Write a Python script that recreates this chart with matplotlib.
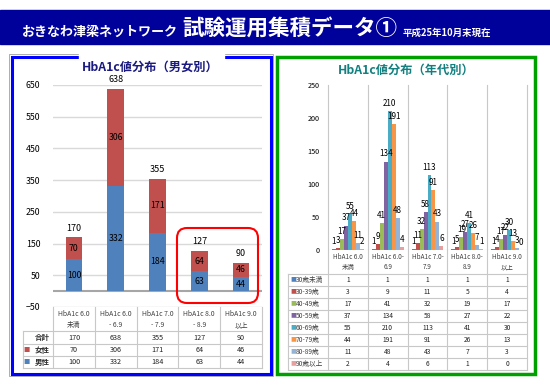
import matplotlib
matplotlib.use('Agg')
import matplotlib.pyplot as plt
from matplotlib.patches import Rectangle, FancyBboxPatch

plt.rcParams['font.family'] = ['Noto Sans CJK JP', 'DejaVu Sans']

# --- data: left chart (男女別) ---
cats_left = ['HbA1c 6.0\n未満', 'HbA1c 6.0\n- 6.9', 'HbA1c 7.0\n- 7.9', 'HbA1c 8.0\n- 8.9', 'HbA1c 9.0\n以上']
female = [70, 306, 171, 64, 46]
male = [100, 332, 184, 63, 44]
total = [170, 638, 355, 127, 90]

# --- data: right chart (年代別) ---
cats_right = ['HbA1c 6.0\n未満', 'HbA1c 6.0-\n6.9', 'HbA1c 7.0-\n7.9', 'HbA1c 8.0-\n8.9', 'HbA1c 9.0\n以上']
age_labels = ['30歳未満', '30-39歳', '40-49歳', '50-59歳', '60-69歳', '70-79歳', '80-89歳', '90歳以上']
age_u30 = [1, 1, 1, 1, 1]
age_30s = [3, 9, 11, 5, 4]
age_40s = [17, 41, 32, 19, 17]
age_50s = [37, 134, 58, 27, 22]
age_60s = [55, 210, 113, 41, 30]
age_70s = [44, 191, 91, 26, 13]
age_80s = [11, 48, 43, 7, 3]
age_90p = [2, 4, 6, 1, 0]
age_values = [age_u30, age_30s, age_40s, age_50s, age_60s, age_70s, age_80s, age_90p]
age_colors = ['#4F81BD', '#C0504D', '#9BBB59', '#8064A2', '#4BACC6', '#F79646', '#95B3D7', '#E6A0A0']

W, H = 550, 389
fig = plt.figure(figsize=(W / 100, H / 100), dpi=100)


def box(x0, y0, x1, y1):
    # pixel box (top-left origin) -> figure fraction
    return [x0 / W, 1 - y1 / H, (x1 - x0) / W, (y1 - y0) / H]


bg = fig.add_axes([0, 0, 1, 1], zorder=0)
bg.set_xlim(0, W)
bg.set_ylim(H, 0)
bg.axis('off')

# header band
bg.add_patch(Rectangle((0, 10), W, 34, color='#00009A'))
bg.text(22, 35.5, 'おきなわ津梁ネットワーク', color='white', fontsize=9.4, fontweight='bold', va='baseline')
bg.text(182, 36, '試験運用集積データ①', color='white', fontsize=15.5, fontweight='bold', va='baseline')
bg.text(403, 35.5, '平成25年10月末現在', color='white', fontsize=6.8, fontweight='bold', va='baseline')

# panel frames
bg.add_patch(Rectangle((9, 54), 264, 322, fill=False, ec='#A0A0A0', lw=0.6))
bg.add_patch(Rectangle((11.5, 56.5), 259, 317.5, fill=False, ec='#0000FF', lw=2.2))
bg.add_patch(Rectangle((79, 52), 145, 8, color='white', zorder=3))
bg.add_patch(Rectangle((277, 56.5), 258, 317, fill=False, ec='#00A000', lw=2.5))

bg.text(150, 67, 'HbA1c値分布（男女別）', color='#1A1A80', fontsize=8.8, fontweight='bold', ha='center', va='center')
bg.text(406, 70, 'HbA1c値分布（年代別）', color='#138080', fontsize=8.8, fontweight='bold', ha='center', va='center')

# ---------- left chart ----------
axL = fig.add_axes(box(53, 85, 262, 307), zorder=1)
axL.patch.set_alpha(0)
x = list(range(len(cats_left)))
axL.bar(x, male, 0.4, color='#4F81BD', zorder=2)
axL.bar(x, female, 0.4, bottom=male, color='#C0504D', zorder=2)
for i in x:
    axL.text(i, male[i] / 2, str(male[i]), ha='center', va='center', fontsize=6.3, zorder=3)
    axL.text(i, male[i] + female[i] / 2, str(female[i]), ha='center', va='center', fontsize=6.3, zorder=3)
    axL.annotate(str(total[i]), (i, total[i]), xytext=(0, 6.5), textcoords='offset points',
                 ha='center', va='center', fontsize=6.5)
axL.set_xlim(-0.5, 4.5)
axL.set_ylim(-50, 650)
axL.set_yticks(range(-50, 651, 100))
axL.set_xticks([])
axL.grid(axis='y', color='#D9D9D9', lw=1)
axL.axhline(0, color='#A6A6A6', lw=1.5, zorder=1)
axL.tick_params(length=0, labelsize=6.3, pad=9)
for s in axL.spines.values():
    s.set_visible(False)

# left data table
colw = (262 - 53) / 5
line_c = '#C8C8C8'
for k in range(6):
    bg.plot([53 + k * colw] * 2, [307, 368], color=line_c, lw=0.8)
bg.plot([23, 23], [331, 368], color=line_c, lw=0.8)
for yy in [331, 343.5, 356, 368]:
    bg.plot([23, 262], [yy, yy], color=line_c, lw=0.8)
rows_left = [('合計', total, None), ('女性', female, '#C0504D'), ('男性', male, '#4F81BD')]
for i, lab in enumerate(cats_left):
    cx = 53 + (i + 0.5) * colw
    l1, l2 = lab.split('\n')
    bg.text(cx, 314, l1, ha='center', va='center', fontsize=4.9, color='#404040')
    bg.text(cx, 325, l2, ha='center', va='center', fontsize=4.9, color='#404040')
for r, (name, vals, col) in enumerate(rows_left):
    cy = 337.5 + r * 12.4
    bg.text(50, cy, name, ha='right', va='center', fontsize=5.4, fontweight='bold', color='#303030')
    if col:
        bg.text(27, cy, '■', ha='center', va='center', fontsize=4.5, color=col)
    for i, v in enumerate(vals):
        bg.text(53 + (i + 0.5) * colw, cy, str(v), ha='center', va='center', fontsize=5.2, color='#202020')

# ---------- right chart ----------
axR = fig.add_axes(box(328, 85, 527, 250), zorder=1)
axR.patch.set_alpha(0)
bw = 0.1
for k, vals in enumerate(age_values):
    xs = [i + (k - 3.5) * bw for i in range(len(vals))]
    axR.bar(xs, vals, bw, color=age_colors[k], zorder=2)
    for xv, v in zip(xs, vals):
        axR.annotate(str(v), (xv, v), xytext=(0, 5.5), textcoords='offset points',
                     ha='center', va='center', fontsize=5.8)
axR.set_xlim(-0.5, 4.5)
axR.set_ylim(0, 250)
axR.set_yticks(range(0, 251, 50))
axR.set_xticks([])
axR.axhline(0, color='#BFBFBF', lw=0.8)
axR.tick_params(length=0, labelsize=5.2, pad=6)
for s in axR.spines.values():
    s.set_visible(False)

# right data table
colr = (527 - 328) / 5
for k in range(6):
    bg.plot([328 + k * colr] * 2, [85, 370], color=line_c, lw=0.8)
bg.plot([288, 288], [274, 370], color=line_c, lw=0.8)
for k in range(9):
    yy = 274 + k * 12
    bg.plot([288, 527], [yy, yy], color=line_c, lw=0.8)
for i, lab in enumerate(cats_right):
    cx = 328 + (i + 0.5) * colr
    l1, l2 = lab.split('\n')
    bg.text(cx, 257, l1, ha='center', va='center', fontsize=4.6, color='#404040')
    bg.text(cx, 267, l2, ha='center', va='center', fontsize=4.6, color='#404040')
for k, name in enumerate(age_labels):
    cy = 280 + k * 12
    bg.text(290, cy, '■', ha='left', va='center', fontsize=4.3, color=age_colors[k])
    bg.text(296, cy, name, ha='left', va='center', fontsize=4.8, color='#404040')
    for i, v in enumerate(age_values[k]):
        bg.text(328 + (i + 0.5) * colr, cy, str(v), ha='center', va='center', fontsize=4.8, color='#202020')

# red highlight box
fg = fig.add_axes([0, 0, 1, 1], zorder=2)
fg.set_xlim(0, W)
fg.set_ylim(H, 0)
fg.axis('off')
fg.add_patch(FancyBboxPatch((177, 228), 81, 75, boxstyle='round,pad=0,rounding_size=10',
                            fill=False, ec='#FF0000', lw=1.5))

fig.savefig('out.png', dpi=100)
